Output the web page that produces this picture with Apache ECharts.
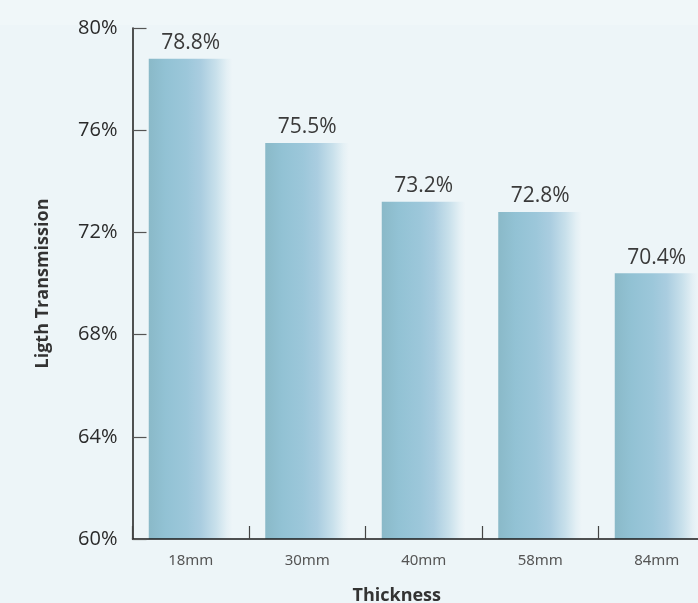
<!DOCTYPE html>
<html>
<head>
<meta charset="utf-8">
<script src="https://cdn.jsdelivr.net/npm/echarts@6/dist/echarts.min.js"></script>
<style>
html,body{margin:0;padding:0;background:#edf5f8;}
#main{width:698px;height:603px;}
</style>
</head>
<body>
<div id="main"></div>
<script>
const categories = ['18mm', '30mm', '40mm', '58mm', '84mm'];
const transmission = [78.8, 75.5, 73.2, 72.8, 70.4];
const yMin = 60, yMax = 80, yStep = 4;

const chart = echarts.init(document.getElementById('main'));
chart.setOption({
  backgroundColor: '#edf5f8',
  animation: false,
  graphic: [{
    type: 'rect', z: -10, silent: true,
    shape: { x: 0, y: 0, width: 698, height: 25 },
    style: { fill: '#f0f7f9' }
  }],
  grid: { left: 132.5, right: -17, top: 28, bottom: 64, containLabel: false, outerBoundsMode: 'none' },
  xAxis: {
    type: 'category',
    data: categories,
    z: 5,
    name: 'Thickness',
    nameLocation: 'middle',
    nameGap: 48,
    nameTextStyle: { fontFamily: 'Open Sans', fontWeight: 'bold', fontSize: 18, color: '#333', padding: [0, 54, 0, 0] },
    axisLine: { show: true, lineStyle: { color: '#1a1a1a', width: 1.5 } },
    axisTick: { show: true, inside: true, length: 13, lineStyle: { color: '#444', width: 1.2 } },
    axisLabel: { fontFamily: 'Noto Sans', fontSize: 15, color: '#555', margin: 14 }
  },
  yAxis: {
    type: 'value',
    z: 5,
    min: yMin, max: yMax, interval: yStep,
    name: 'Ligth Transmission',
    nameLocation: 'middle',
    nameGap: 81,
    nameTextStyle: { fontFamily: 'Open Sans', fontWeight: 'bold', fontSize: 18, color: '#333' },
    axisLine: { show: true, lineStyle: { color: '#1a1a1a', width: 1.5 } },
    axisTick: { show: true, inside: true, length: 14, lineStyle: { color: '#555', width: 1.2 } },
    splitLine: { show: false },
    axisLabel: { fontFamily: 'Open Sans', fontSize: 20, color: '#2a2a2a', margin: 15, formatter: '{value}%' }
  },
  series: [{
    type: 'bar',
    data: transmission,
    barWidth: 84,
    itemStyle: {
      color: new echarts.graphic.LinearGradient(0, 0, 1, 0, [
        { offset: 0, color: '#8ab9c8' },
        { offset: 0.2, color: '#92c2d4' },
        { offset: 0.45, color: '#9cc7da' },
        { offset: 0.62, color: '#aacde0' },
        { offset: 0.8, color: '#c8e0eb' },
        { offset: 0.93, color: '#e4f0f5' },
        { offset: 1, color: '#eef5f8' }
      ])
    },
    label: {
      show: true, position: 'top', distance: 5,
      fontFamily: 'Open Sans', fontSize: 21, color: '#3a3a3a',
      formatter: p => p.value.toFixed(1) + '%'
    }
  }]
});
</script>
</body>
</html>
